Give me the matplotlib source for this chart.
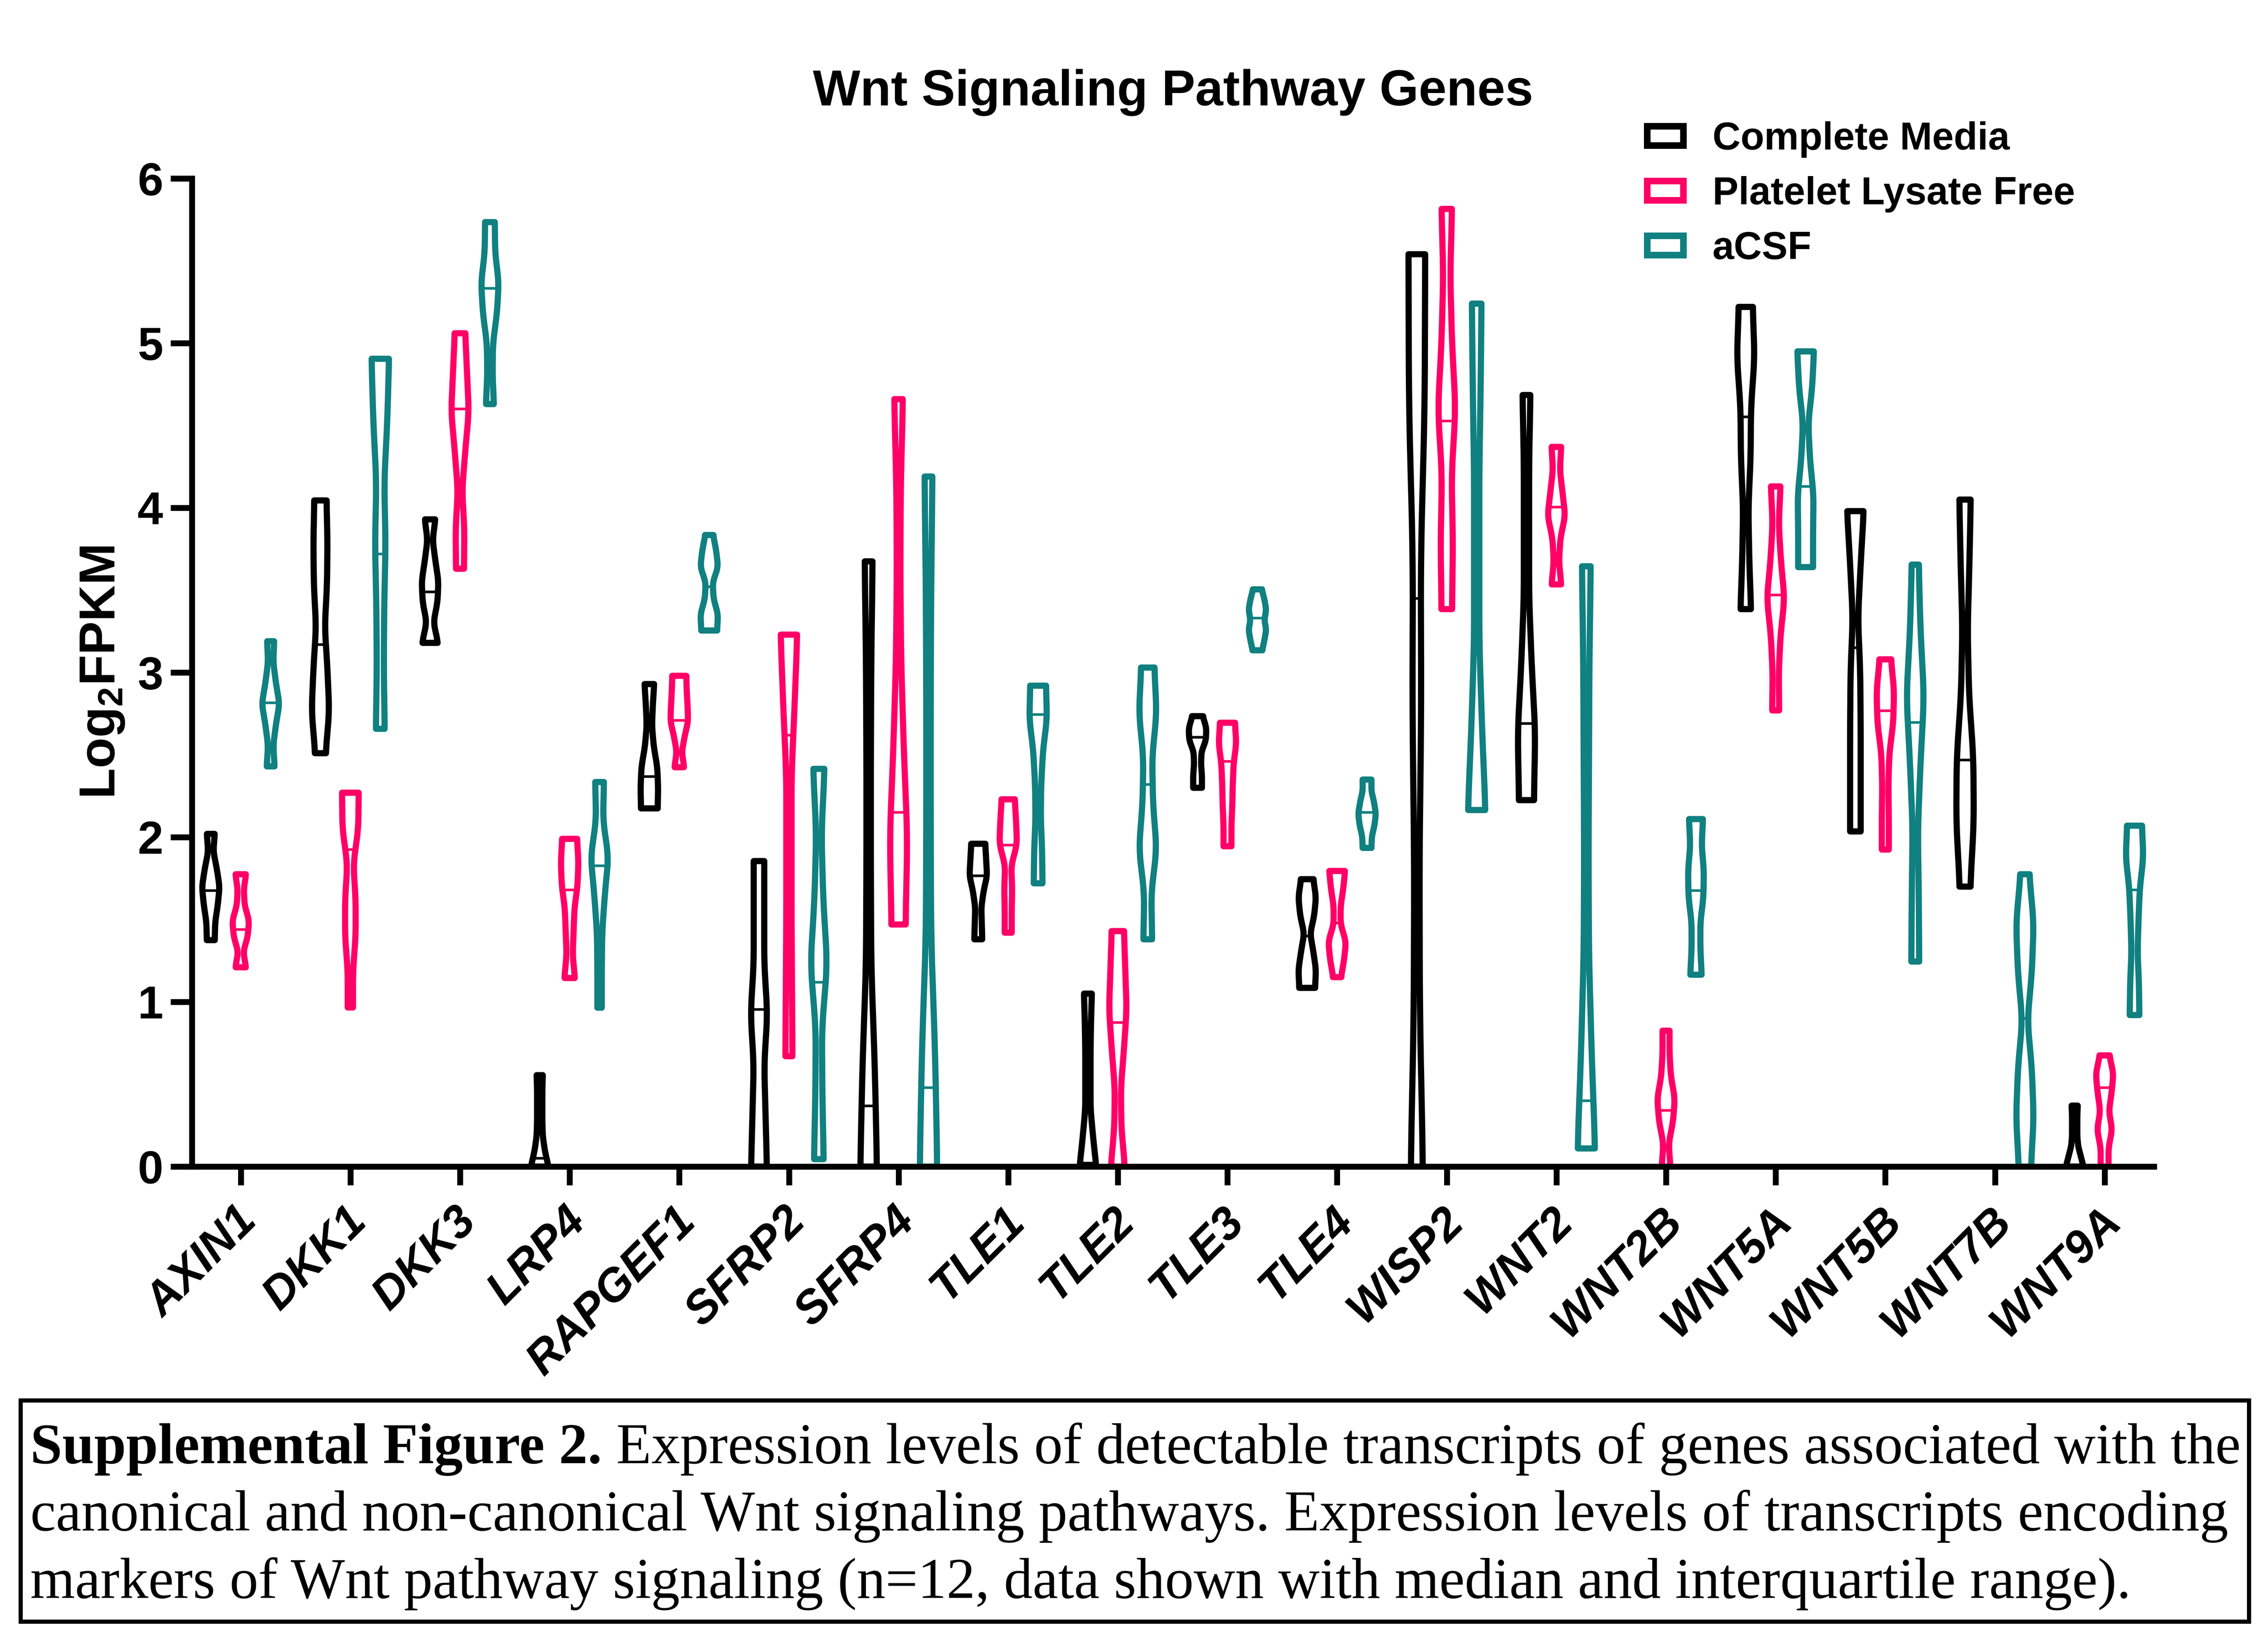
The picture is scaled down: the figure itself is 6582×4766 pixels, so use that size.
import matplotlib
matplotlib.use('Agg')
import matplotlib.pyplot as plt
from matplotlib.patches import Polygon, Rectangle
from matplotlib.transforms import ScaledTranslation
import numpy as np

plt.rcParams['font.family'] = ['Liberation Sans', 'DejaVu Sans']
plt.rcParams['mathtext.fontset'] = 'custom'
plt.rcParams['mathtext.bf'] = 'Liberation Sans:bold'
plt.rcParams['mathtext.rm'] = 'Liberation Sans:bold'
plt.rcParams['mathtext.default'] = 'bf'

genes = ['AXIN1', 'DKK1', 'DKK3', 'LRP4', 'RAPGEF1', 'SFRP2', 'SFRP4', 'TLE1', 'TLE2',
         'TLE3', 'TLE4', 'WISP2', 'WNT2', 'WNT2B', 'WNT5A', 'WNT5B', 'WNT7B', 'WNT9A']
groups = ['Complete Media', 'Platelet Lysate Free', 'aCSF']
colors = ['#000000', '#FF0066', '#108080']

# Complete Media (None = not detected)
cm_min = [1.375, 2.51, 3.18, 0.0, 2.175, 0.0, 0.0, 1.38, 0.0, 2.30, 1.085, 0.0, 2.225, None, 3.385, 2.035, 1.70, 0.0]
cm_max = [2.02, 4.045, 3.93, 0.555, 2.93, 1.855, 3.675, 1.96, 1.05, 2.735, 1.745, 5.54, 4.685, None, 5.22, 3.98, 4.05, 0.37]
cm_med = [1.675, 3.17, 3.49, 0.05, 2.368, 0.954, 0.368, 1.766, 0.02, 2.606, 1.40, 3.45, 2.69, None, 4.552, 3.15, 2.468, 0.01]

# Platelet Lysate Free
plf_min = [1.21, 0.966, 3.63, 1.145, 2.425, 0.67, 1.47, 1.42, 0.0, 1.945, 1.15, 3.385, 3.535, 0.0, 2.77, 1.925, None, 0.0]
plf_max = [1.775, 2.27, 5.06, 1.99, 2.98, 3.23, 4.66, 2.23, 1.43, 2.695, 1.795, 5.815, 4.37, 0.825, 4.13, 3.08, None, 0.675]
plf_med = [1.44, 1.925, 4.60, 1.679, 2.71, 2.62, 2.15, 1.952, 0.875, 2.46, 1.48, 4.528, 4.005, 0.34, 3.47, 2.768, None, 0.479]

# aCSF
acsf_min = [2.43, 2.658, 4.63, 0.965, 3.255, 0.045, 0.0, 1.72, 1.38, 3.135, 1.935, 2.165, 0.11, 1.165, 3.64, 1.245, 0.0, 0.92]
acsf_max = [3.19, 4.905, 5.735, 2.335, 3.835, 2.415, 4.19, 2.92, 3.03, 3.505, 2.35, 5.24, 3.645, 2.11, 4.95, 3.655, 1.775, 2.07]
acsf_med = [2.816, 3.72, 5.332, 1.826, 3.52, 1.12, 0.479, 2.745, 2.32, 3.33, 2.151, 3.5, 0.40, 1.675, 4.13, 2.697, 0.9, 1.679]

# relative violin width, bottom -> top
cm_shape = [
    [0.45, 0.5, 0.8, 1.0, 0.7, 0.3, 0.45],
    [0.6, 1.0, 0.8, 0.5, 0.75, 0.8, 0.7],
    [0.9, 0.4, 0.85, 0.95, 0.6, 0.3, 0.6],
    [1.0, 0.6, 0.35, 0.3, 0.3, 0.3, 0.35],
    [0.95, 1.0, 0.9, 0.5, 0.3, 0.4, 0.55],
    [0.9, 0.75, 0.6, 0.95, 0.6, 0.6, 0.6],
    [0.95, 0.7, 0.3, 0.25, 0.25, 0.3, 0.45],
    [0.45, 0.4, 0.35, 0.6, 1.0, 0.9, 0.8],
    [0.95, 0.6, 0.3, 0.3, 0.3, 0.35, 0.45],
    [0.5, 0.5, 0.4, 0.45, 0.95, 1.0, 0.6],
    [0.9, 1.0, 0.7, 0.35, 0.8, 1.0, 0.7],
    [0.7, 0.35, 0.3, 0.5, 0.45, 0.9, 0.95],
    [0.85, 1.0, 0.6, 0.3, 0.3, 0.3, 0.45],
    None,
    [0.6, 0.4, 0.3, 0.55, 0.6, 1.0, 0.8],
    [0.6, 0.6, 0.6, 0.55, 0.3, 0.6, 0.95],
    [0.6, 1.0, 0.95, 0.45, 0.3, 0.5, 0.65],
    [1.0, 0.7, 0.4, 0.3, 0.3, 0.3, 0.35],
]
plf_shape = [
    [0.6, 0.3, 0.8, 0.95, 0.45, 0.35, 0.6],
    [0.3, 0.3, 0.6, 0.6, 0.35, 0.9, 0.95],
    [0.45, 0.5, 0.25, 0.6, 1.0, 0.8, 0.6],
    [0.6, 0.35, 0.45, 0.55, 0.9, 1.0, 0.85],
    [0.55, 0.3, 0.6, 1.0, 0.95, 0.85, 0.8],
    [0.4, 0.35, 0.3, 0.3, 0.3, 0.65, 0.95],
    [0.8, 1.0, 0.6, 0.3, 0.2, 0.25, 0.5],
    [0.4, 0.4, 0.45, 0.35, 1.0, 0.9, 0.75],
    [0.8, 0.4, 0.35, 0.7, 1.0, 0.85, 0.7],
    [0.45, 0.45, 0.55, 0.6, 0.7, 1.0, 0.85],
    [0.45, 0.8, 1.0, 0.4, 0.4, 0.7, 0.9],
    [0.6, 0.7, 0.55, 1.0, 0.6, 0.4, 0.6],
    [0.55, 0.3, 0.45, 1.0, 0.7, 0.4, 0.55],
    [0.5, 0.3, 0.8, 1.0, 0.55, 0.4, 0.4],
    [0.4, 0.35, 0.55, 1.0, 0.6, 0.35, 0.55],
    [0.4, 0.4, 0.35, 0.45, 0.9, 1.0, 0.65],
    None,
    [0.45, 0.45, 0.85, 0.5, 0.8, 1.0, 0.55],
]
acsf_shape = [
    [0.45, 0.3, 0.6, 1.0, 0.6, 0.3, 0.4],
    [0.5, 0.4, 0.45, 0.6, 0.45, 0.8, 1.0],
    [0.45, 0.3, 0.35, 0.8, 1.0, 0.6, 0.55],
    [0.25, 0.25, 0.3, 0.6, 1.0, 0.4, 0.5],
    [0.9, 1.0, 0.5, 0.4, 1.0, 0.8, 0.45],
    [0.55, 0.4, 0.35, 0.95, 0.5, 0.3, 0.65],
    [1.0, 0.75, 0.3, 0.25, 0.25, 0.3, 0.45],
    [0.5, 0.45, 0.3, 0.35, 0.55, 1.0, 0.9],
    [0.5, 0.4, 1.0, 0.6, 0.5, 1.0, 0.75],
    [0.55, 0.8, 1.0, 0.8, 1.0, 0.8, 0.5],
    [0.5, 0.55, 0.85, 1.0, 0.8, 0.5, 0.5],
    [1.0, 0.6, 0.3, 0.3, 0.3, 0.45, 0.55],
    [1.0, 0.6, 0.3, 0.25, 0.3, 0.35, 0.5],
    [0.65, 0.5, 0.5, 0.85, 0.9, 0.65, 0.8],
    [0.85, 0.85, 0.9, 0.5, 0.3, 0.75, 0.95],
    [0.45, 0.4, 0.3, 0.6, 1.0, 0.6, 0.4],
    [0.7, 1.0, 0.8, 0.3, 0.8, 1.0, 0.5],
    [0.55, 0.5, 0.35, 0.45, 0.6, 1.0, 0.85],
]

caption_bold = 'Supplemental Figure 2.'
caption_lines = [
    ' Expression levels of detectable transcripts of genes associated with the',
    'canonical and non-canonical Wnt signaling pathways. Expression levels of transcripts encoding',
    'markers of Wnt pathway signaling (n=12, data shown with median and interquartile range).',
]

W, H = 6582, 4766
fig = plt.figure(figsize=(W / 300, H / 300), dpi=300)
ax = fig.add_axes([557 / W, 1 - 3386 / H, (6251 - 557) / W, (3386 - 518) / H])

HALF = 0.08
OFFS = [-0.273, 0.0, 0.273]
LW = 4.3


def violin(x, lo, hi, med, shape, color):
    n = 80
    yy = np.linspace(lo, hi, n)
    w = np.interp(np.linspace(0, 1, n), np.linspace(0, 1, len(shape)), shape)
    k = 9
    w = np.convolve(np.pad(w, k // 2, mode='edge'), np.ones(k) / k, mode='valid')
    hw = w * HALF
    xs = np.concatenate([x - hw, (x + hw)[::-1]])
    ys = np.concatenate([yy, yy[::-1]])
    ax.add_patch(Polygon(np.column_stack([xs, ys]), closed=True, fill=False,
                         ec=color, lw=LW, joinstyle='round', clip_on=False, zorder=2))
    hm = np.interp(med, yy, hw)
    ax.plot([x - hm, x + hm], [med, med], color=color, lw=1.8,
            solid_capstyle='butt', clip_on=False, zorder=2)


data = [(cm_min, cm_max, cm_med, cm_shape),
        (plf_min, plf_max, plf_med, plf_shape),
        (acsf_min, acsf_max, acsf_med, acsf_shape)]
for gi, (mins, maxs, meds, shapes) in enumerate(data):
    for i in range(len(genes)):
        if mins[i] is None:
            continue
        violin(i + OFFS[gi], mins[i], maxs[i], meds[i], shapes[i], colors[gi])

ax.set_xlim(-0.445, 17.45)
ax.set_ylim(0, 6)
ax.set_yticks(range(7))
ax.set_xticks(range(len(genes)))
for s in ['top', 'right']:
    ax.spines[s].set_visible(False)
for s in ['left', 'bottom']:
    ax.spines[s].set_linewidth(4.1)
ax.tick_params(axis='y', length=15, width=4.1, pad=5, labelsize=32)
ax.tick_params(axis='x', length=13, width=4.1, pad=10)
for lab in ax.get_yticklabels():
    lab.set_fontweight('bold')
ax.set_xticklabels(genes, rotation=45, ha='right', rotation_mode='anchor',
                   fontsize=32, fontweight='bold', fontstyle='italic')
for lab in ax.get_xticklabels():
    lab.set_transform(lab.get_transform() + ScaledTranslation(-4 / 72, 0, fig.dpi_scale_trans))

fig.text(3404 / W, 1 - 306 / H, 'Wnt Signaling Pathway Genes', ha='center', va='baseline',
         fontsize=35, fontweight='bold')
fig.text(298 / W, 1 - 1952 / H, r'Log$_{2}$FPKM', rotation=90, ha='center', va='center',
         fontsize=35, fontweight='bold')

# legend
for i, (name, col) in enumerate(zip(groups, colors)):
    cy = 394 + 159 * i
    fig.add_artist(Rectangle((4780 / W, 1 - (cy + 28) / H), 105 / W, 56 / H,
                             transform=fig.transFigure, fill=False, ec=col, lw=4.6))
    fig.text(4970 / W, 1 - (cy + 40) / H, name, ha='left', va='baseline',
             fontsize=27, fontweight='bold')

# caption box
fig.add_artist(Rectangle((60 / W, 1 - 4707 / H), (6527 - 60) / W, (4707 - 4065) / H,
                         transform=fig.transFigure, fill=False, ec='black', lw=2.9))
serif = ['Liberation Serif', 'DejaVu Serif']
cap_size = 40
tb = fig.text(88 / W, 1 - 4247 / H, caption_bold, ha='left', va='baseline',
              fontsize=cap_size, fontweight='bold', family=serif)
r = fig.canvas.get_renderer()
bb = tb.get_window_extent(renderer=r)
fig.text(bb.x1 / W, 1 - 4247 / H, caption_lines[0], ha='left', va='baseline',
         fontsize=cap_size, family=serif)
for j, line in enumerate(caption_lines[1:]):
    fig.text(88 / W, 1 - (4442 + 196 * j) / H, line, ha='left', va='baseline',
             fontsize=cap_size, family=serif)

fig.savefig('out.png', dpi=300)
